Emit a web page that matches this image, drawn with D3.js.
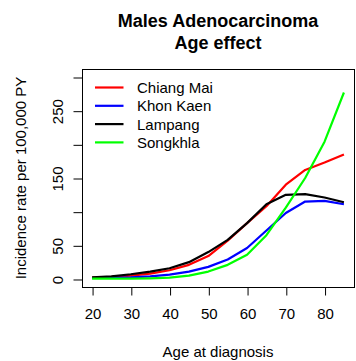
<!DOCTYPE html>
<html>
<head>
<meta charset="utf-8">
<script src="https://cdn.jsdelivr.net/npm/d3@7"></script>
<style>
  html, body { margin: 0; padding: 0; background: #fff; }
  svg { display: block; font-family: "Liberation Sans", Arial, Helvetica, sans-serif; }
</style>
</head>
<body>
<svg id="chart" width="356" height="361"></svg>
<script>
// Age groups (years at diagnosis)
const ages = [20, 25, 30, 35, 40, 45, 50, 55, 60, 65, 70, 75, 80, 85];

// Estimated incidence rate per 100,000 person-years, by registry
const chiangMai = [2, 3, 5, 8, 13, 21, 34, 57, 83, 108, 140, 162, 173, 185];
const khonKaen  = [1.5, 2, 2.5, 4, 6.5, 11, 18, 29, 46, 72, 98, 115, 116, 111];
const lampang   = [2.5, 4, 7, 11, 16, 25, 40, 58, 83, 111, 125, 126, 121, 114];
const songkhla  = [0.5, 0.5, 0.5, 1, 2, 5, 11, 21, 36, 65, 106, 150, 204, 277];

const seriesNames  = ["Chiang Mai", "Khon Kaen", "Lampang", "Songkhla"];
const seriesValues = [chiangMai, khonKaen, lampang, songkhla];
const seriesColors = ["#ff0000", "#0000ff", "#000000", "#00ff00"];

const xTicks = [20, 30, 40, 50, 60, 70, 80];
const yTicks = [0, 50, 100, 150, 200, 250, 300];
const yTickLabels = ["0", "50", "", "150", "", "250", ""];

const titleLines = ["Males Adenocarcinoma", "Age effect"];
const xLabel = "Age at diagnosis";
const yLabel = "Incidence rate per 100,000 PY";

const box = { left: 82, right: 354, top: 69, bottom: 287 };

const svg = d3.select("#chart");

const x = d3.scaleLinear().domain([17.4, 87.6]).range([box.left, box.right]);
const y = d3.scaleLinear().domain([-11.9, 311.9]).range([box.bottom, box.top]);

// Plot frame
svg.append("rect")
  .attr("x", box.left + 0.5).attr("y", box.top + 0.5)
  .attr("width", box.right - box.left).attr("height", box.bottom - box.top)
  .attr("fill", "none").attr("stroke", "#000").attr("stroke-width", 1);

// X axis
const xAxis = svg.append("g")
  .attr("transform", `translate(0.5,${box.bottom + 0.5})`)
  .call(d3.axisBottom(x).tickValues(xTicks).tickSize(8).tickPadding(13).tickSizeOuter(0));
xAxis.select(".domain").attr("d", `M${x(20)},0H${x(80)}`);
xAxis.selectAll("text").attr("font-size", 15).attr("font-family", "Liberation Sans, Arial, sans-serif").attr("fill", "#000");

// Y axis with rotated labels
const yAxis = svg.append("g")
  .attr("transform", `translate(${box.left + 0.5},0.5)`)
  .call(d3.axisLeft(y).tickValues(yTicks).tickSize(9).tickFormat((d, i) => yTickLabels[i]).tickSizeOuter(0));
yAxis.select(".domain").attr("d", `M0,${y(0)}V${y(300)}`);
yAxis.selectAll(".tick text")
  .attr("font-size", 15).attr("font-family", "Liberation Sans, Arial, sans-serif").attr("fill", "#000")
  .attr("x", null).attr("dy", null)
  .attr("text-anchor", "middle")
  .attr("dominant-baseline", "central")
  .attr("transform", "translate(-25,0) rotate(-90)");

// Series lines
const line = d3.line().x((d, i) => x(ages[i])).y(d => y(d));
seriesValues.forEach((vals, k) => {
  svg.append("path")
    .datum(vals)
    .attr("d", line)
    .attr("fill", "none")
    .attr("stroke", seriesColors[k])
    .attr("stroke-width", 2.2)
    .attr("stroke-linejoin", "round");
});

// Legend
const legend = svg.append("g").attr("transform", "translate(95,87.5)");
seriesNames.forEach((name, k) => {
  const g = legend.append("g").attr("transform", `translate(0,${k * 18.3})`);
  g.append("line").attr("x1", 0).attr("x2", 28.5).attr("y1", 0).attr("y2", 0)
    .attr("stroke", seriesColors[k]).attr("stroke-width", 2.2);
  g.append("text").attr("x", 42).attr("y", 0)
    .attr("dominant-baseline", "central")
    .attr("font-size", 15).text(name);
});

// Title
svg.append("g").selectAll("text").data(titleLines).join("text")
  .attr("x", (box.left + box.right) / 2)
  .attr("y", (d, i) => 26.7 + i * 22.6)
  .attr("text-anchor", "middle")
  .attr("font-weight", "bold")
  .attr("font-size", 18)
  .text(d => d);

// Axis titles
svg.append("text")
  .attr("x", (box.left + box.right) / 2).attr("y", 351.5)
  .attr("text-anchor", "middle").attr("dominant-baseline", "central")
  .attr("font-size", 15).text(xLabel);

svg.append("text")
  .attr("transform", `translate(20,${(box.top + box.bottom) / 2}) rotate(-90)`)
  .attr("text-anchor", "middle").attr("dominant-baseline", "central")
  .attr("font-size", 15).text(yLabel);
</script>
</body>
</html>
